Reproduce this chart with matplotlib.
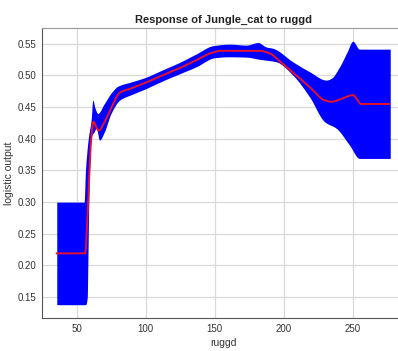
import matplotlib
matplotlib.use("Agg")
import matplotlib.pyplot as plt
import numpy as np

# Mean response curve (ruggd -> logistic output)
mean_x = [35.7, 56.3, 58.0, 60.6, 62.3, 64.0, 66.0, 70.0, 75.0, 81.2, 90.0, 100.0,
          112.5, 125.0, 136.7, 147.0, 155.0, 165.0, 182.6, 189.9, 198.0,
          206.7, 218.8, 229.7, 234.6, 242.0, 250.2, 256.3, 276.5]
mean_y = [0.219, 0.219, 0.28, 0.398, 0.427, 0.420, 0.413, 0.425, 0.448, 0.4725, 0.480,
          0.4885, 0.5005, 0.512, 0.524, 0.535, 0.539, 0.539, 0.539, 0.535,
          0.521, 0.505, 0.482, 0.461, 0.4585, 0.463, 0.469, 0.455, 0.455]

# Upper and lower edges of the spread band
upper_x = [35.7, 55.5, 56.5, 58.5, 60.6, 61.8, 63.5, 65.4, 70.0, 75.0, 79.9, 90.0,
           100.0, 112.5, 125.0, 136.7, 148.8, 160.9, 173.0, 181.4, 187.5,
           192.2, 206.7, 218.8, 231.0, 234.6, 240.6, 246.0, 250.2, 255.0, 277.3]
upper_y = [0.300, 0.300, 0.350, 0.400, 0.430, 0.461, 0.448, 0.440, 0.455, 0.472, 0.483,
           0.490, 0.497, 0.509, 0.521, 0.534, 0.547, 0.5495, 0.548, 0.552,
           0.545, 0.543, 0.5216, 0.506, 0.4927, 0.4955, 0.5137, 0.537, 0.554, 0.5416,
           0.5416]
lower_x = [35.7, 56.5, 57.8, 58.2, 58.9, 59.4, 60.6, 62.5, 64.3, 66.7, 70.0, 75.0,
           81.2, 90.0, 100.0, 112.5, 125.0, 136.7, 150.0, 160.0, 173.0, 182.6, 194.7,
           206.7, 218.8, 229.7, 238.2, 247.8, 255.0, 277.3]
lower_y = [0.138, 0.138, 0.150, 0.200, 0.300, 0.350, 0.403, 0.410, 0.4166, 0.398, 0.410,
           0.440, 0.461, 0.470, 0.479, 0.4915, 0.503, 0.5137, 0.528, 0.5295, 0.529,
           0.5255, 0.5216, 0.5006, 0.4664, 0.427, 0.4166, 0.390, 0.369, 0.369]

xticks = [50, 100, 150, 200, 250]
yticks = [0.15, 0.20, 0.25, 0.30, 0.35, 0.40, 0.45, 0.50, 0.55]


def pchip(xk, yk, xs):
    """Shape-preserving piecewise cubic interpolation."""
    xk = np.asarray(xk, float)
    yk = np.asarray(yk, float)
    h = np.diff(xk)
    d = np.diff(yk) / h
    m = np.zeros_like(yk)
    for i in range(1, len(xk) - 1):
        if d[i - 1] * d[i] > 0:
            w1 = 2 * h[i] + h[i - 1]
            w2 = h[i] + 2 * h[i - 1]
            m[i] = (w1 + w2) / (w1 / d[i - 1] + w2 / d[i])
    m[0] = d[0]
    m[-1] = d[-1]
    idx = np.clip(np.searchsorted(xk, xs) - 1, 0, len(xk) - 2)
    t = (xs - xk[idx]) / h[idx]
    h00 = 2 * t**3 - 3 * t**2 + 1
    h10 = t**3 - 2 * t**2 + t
    h01 = -2 * t**3 + 3 * t**2
    h11 = t**3 - t**2
    return (h00 * yk[idx] + h10 * h[idx] * m[idx]
            + h01 * yk[idx + 1] + h11 * h[idx] * m[idx + 1])


plt.rcParams['font.family'] = ['Liberation Sans', 'DejaVu Sans']

fig = plt.figure(figsize=(3.98, 3.51), dpi=100)
fig.patch.set_facecolor('white')
ax = fig.add_axes([42 / 398, 1 - 318 / 351, (405 - 42) / 398, (318 - 28) / 351])

band_x = np.linspace(35.7, 277.3, 3000)
up = pchip(upper_x, upper_y, band_x)
lo = pchip(lower_x, lower_y, band_x)
ax.fill_between(band_x, lo, up, color='#0000ff', lw=0, zorder=2)

line_x = np.linspace(mean_x[0], mean_x[-1], 3000)
ax.plot(line_x, pchip(mean_x, mean_y, line_x), color='#e8102a', lw=1.4, zorder=3)

ax.set_xlim(25, 288)
ax.set_ylim(0.117, 0.575)
ax.set_xticks(xticks)
ax.set_yticks(yticks)
ax.set_yticklabels([f"{v:.2f}" for v in yticks])
ax.grid(True, color='#d8d8d8', lw=0.9, zorder=0)
ax.set_axisbelow(True)
ax.tick_params(direction='in', length=0, labelsize=7, colors='#333333', pad=4)

for side in ['left', 'bottom', 'top']:
    ax.spines[side].set_color('#555555')
    ax.spines[side].set_linewidth(0.8)
ax.spines['top'].set_color('#999999')
ax.spines['right'].set_visible(False)

ax.set_title('Response of Jungle_cat to ruggd', fontsize=8, fontweight='bold',
             color='#222222', pad=4)
ax.set_xlabel('ruggd', fontsize=7.5, color='#333333', labelpad=3)
ax.set_ylabel('logistic output', fontsize=7.5, color='#333333', labelpad=3)

fig.savefig('out.png', dpi=100)
